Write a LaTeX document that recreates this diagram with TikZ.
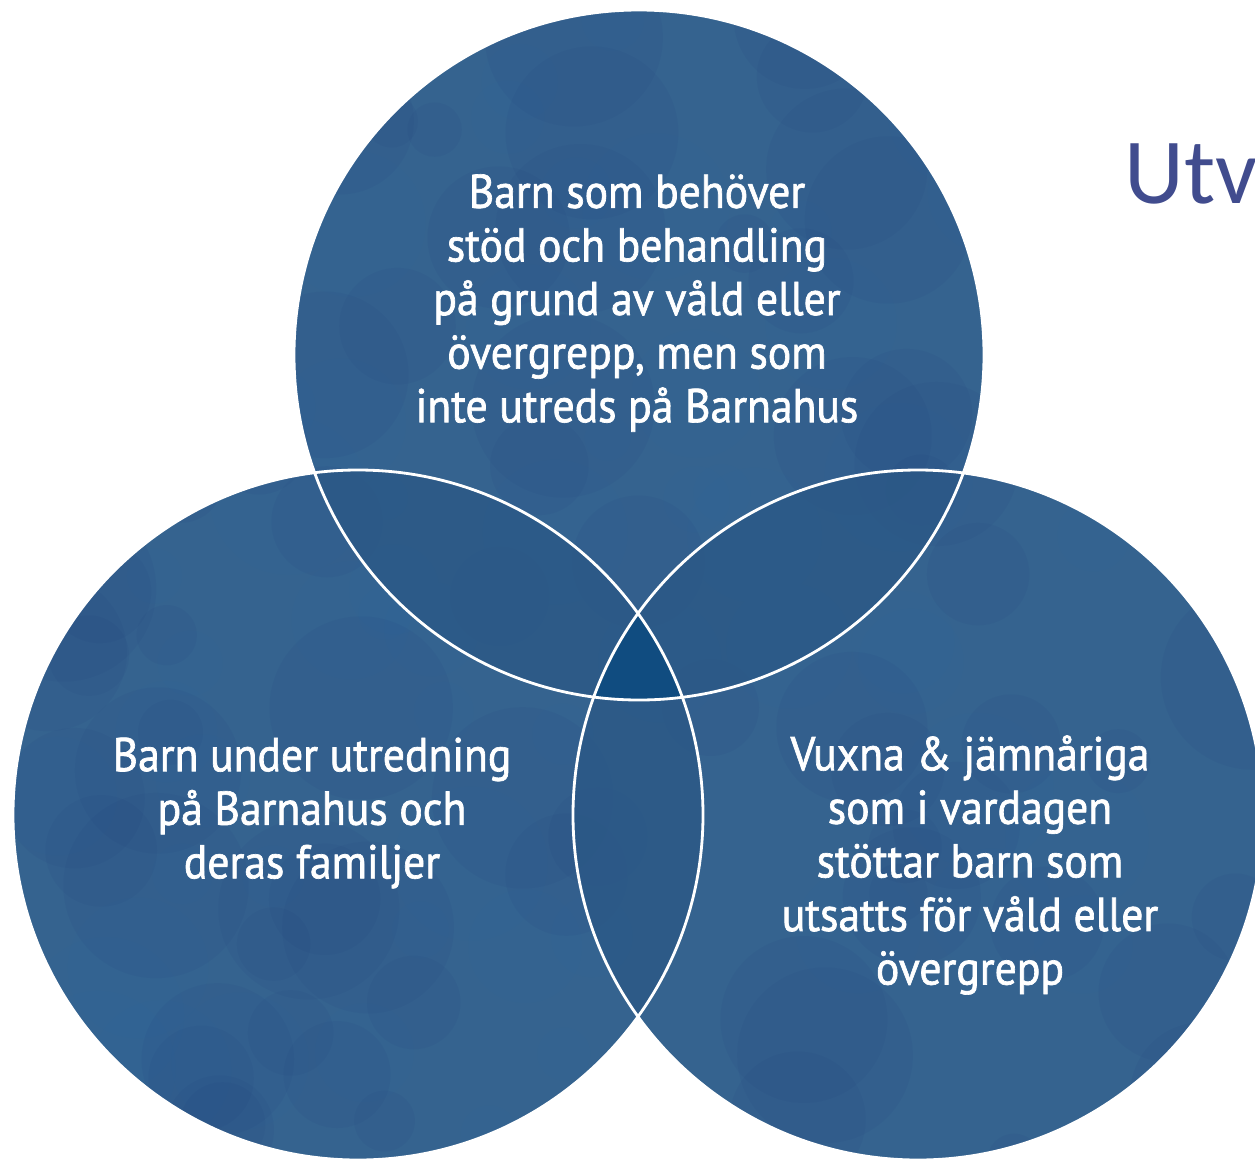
\documentclass[tikz,border=0pt]{standalone}
\usepackage{fontspec}
\setmainfont{PT Sans}[FakeBold=1.4,FakeStretch=0.92]
\newfontfamily\utvfont{Carlito}
\begin{document}
\begin{tikzpicture}[x=0.02cm,y=-0.02cm]
\definecolor{basec}{HTML}{35638F}
\definecolor{pairc}{HTML}{2B5886}
\definecolor{midc}{HTML}{104C80}
\definecolor{utvc}{HTML}{414C8E}
\tikzset{
  ring/.style={draw=white,line width=1.6pt},
  label/.style={text=white,align=center,font=\fontsize{27pt}{30.5pt}\selectfont,inner sep=0pt},
}
\useasboundingbox (0,0) rectangle (1255,1163);
\coordinate (T) at (639,355);
\coordinate (L) at (358,815);
\coordinate (R) at (918,815);
\def\rr{345}
% base fills
\fill[basec] (T) circle (\rr);
\fill[basec] (L) circle (\rr);
\fill[basec] (R) circle (\rr);
% mottled texture
\begin{scope}
\clip (T) circle (\rr) (L) circle (\rr) (R) circle (\rr);
\pgfmathsetseed{7}
\foreach \i in {1,...,90}{
  \pgfmathsetmacro{\px}{rnd*1255}
  \pgfmathsetmacro{\py}{rnd*1163}
  \pgfmathsetmacro{\pr}{25+rnd*70}
  \fill[black!60!blue,opacity=0.03] (\px,\py) circle (\pr);
}
\foreach \i in {1,...,70}{
  \pgfmathsetmacro{\px}{rnd*1255}
  \pgfmathsetmacro{\py}{rnd*1163}
  \pgfmathsetmacro{\pr}{20+rnd*60}
  \fill[cyan!60!blue,opacity=0.025] (\px,\py) circle (\pr);
}
\end{scope}
% pairwise overlaps
\begin{scope}\clip (T) circle (\rr); \fill[pairc,opacity=0.8] (L) circle (\rr); \fill[pairc,opacity=0.8] (R) circle (\rr);\end{scope}
\begin{scope}\clip (L) circle (\rr); \fill[pairc,opacity=0.8] (R) circle (\rr);\end{scope}
% triple overlap
\begin{scope}\clip (T) circle (\rr); \clip (L) circle (\rr); \fill[midc] (R) circle (\rr);\end{scope}
% outlines
\draw[ring] (T) circle (\rr);
\draw[ring] (L) circle (\rr);
\draw[ring] (R) circle (\rr);
% labels
\node[label] (tl) at (637,303) {Barn som behöver\\stöd och behandling\\på grund av våld eller\\övergrepp, men som\\inte utreds på Barnahus};
\node[label] (ll) at (312,813) {Barn under utredning\\på Barnahus och\\deras familjer};
\node[label] (rl) at (970,865) {Vuxna \& jämnåriga\\som i vardagen\\stöttar barn som\\utsatts för våld eller\\övergrepp};
\node[text=utvc,font=\utvfont\fontsize{53pt}{60pt}\selectfont,anchor=base west,inner sep=0pt] (utv) at (1124,203) {Utv};
\end{tikzpicture}
\end{document}
